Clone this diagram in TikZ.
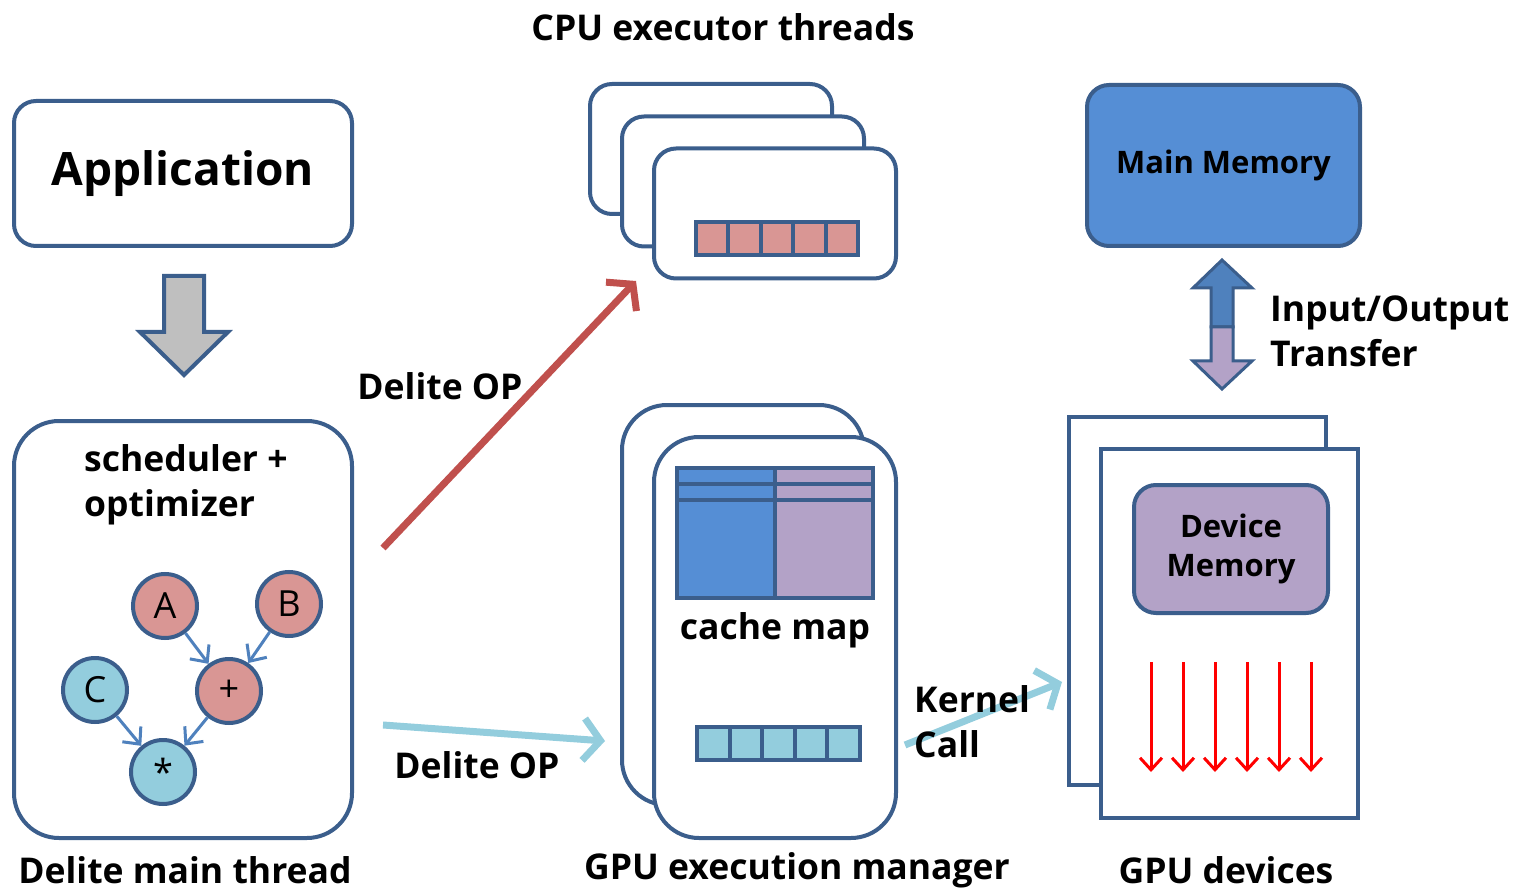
\documentclass[tikz,border=0pt]{standalone}
\usepackage{fontspec}
\setmainfont{Open Sans}
\usetikzlibrary{shapes,arrows,arrows.meta,positioning,fit,backgrounds}
\definecolor{frame}{RGB}{59,94,140}
\definecolor{pinkfill}{RGB}{217,150,148}
\definecolor{cyanfill}{RGB}{147,205,221}
\definecolor{bluefill}{RGB}{85,142,213}
\definecolor{purplefill}{RGB}{179,162,199}
\definecolor{edgeblue}{RGB}{79,129,189}
\definecolor{opred}{RGB}{192,80,77}
\definecolor{flowgray}{RGB}{191,191,191}
\newcommand{\appsize}{\fontsize{46}{52}\selectfont\bfseries}
\newcommand{\labsize}{\fontsize{35.5}{45}\selectfont\bfseries}
\newcommand{\memsize}{\fontsize{31}{39}\selectfont\bfseries}
\tikzstyle{panel} = [rectangle, rounded corners=22pt, draw=frame, line width=4pt, fill=white]
\tikzstyle{device} = [rectangle, draw=frame, line width=4pt, fill=white, minimum width=257pt]
\tikzstyle{vertex} = [circle, draw=frame, line width=4pt, minimum size=64pt, inner sep=0pt, font=\fontsize{36}{36}\selectfont]
\tikzstyle{cell} = [rectangle, draw=frame, line width=4pt, minimum height=33pt, inner sep=0pt]
\tikzstyle{label} = [inner sep=0pt, font=\labsize]
\tikzstyle{gedge} = [draw=edgeblue, line width=3pt, -{Straight Barb[length=13pt,width=24pt]}]
\tikzstyle{opedge} = [draw, line width=7pt, -{Straight Barb[length=17pt,width=42pt]}]
\tikzstyle{thread} = [draw=red, line width=3pt, -{Straight Barb[length=12pt,width=22pt]}]

\begin{document}
\begin{tikzpicture}[x=1pt,y=-1pt]
\useasboundingbox (0,0) rectangle (1532,893);

% main thread ==============================

\node[panel, minimum width=338pt, minimum height=145pt, font=\appsize] (app) at (183,173.5) {Application};
\filldraw[fill=flowgray, draw=frame, line width=4pt, line join=miter]
  (164,276) -- (204,276) -- (204,332) -- (228,332) -- (184,375) -- (140,332) -- (164,332) -- cycle;
\node[panel, rounded corners=45pt, minimum width=338pt, minimum height=417pt] (main) at (183,629.5) {};
\node[label, anchor=north west, align=left] (sched) at (84,444) {scheduler +\\optimizer};
\node[label] (mainlab) at (185,870) {Delite main thread};

% graph
\node[vertex, fill=pinkfill] (a) at (165,606) {A};
\node[vertex, fill=pinkfill] (b) at (289,604) {B};
\node[vertex, fill=cyanfill] (c) at (95,690) {C};
\node[vertex, fill=pinkfill] (plus) at (229,691) {+};
\node[vertex, fill=cyanfill] (times) at (163,772) {*};

\path[gedge] (a) -- (plus);
\path[gedge] (b) -- (plus);
\path[gedge] (c) -- (times);
\path[gedge] (plus) -- (times);

% cpu threads ==============================

\node[label] (cpulab) at (723,27) {CPU executor threads};
\node[panel, minimum width=242pt, minimum height=130pt] (cpu1) at (711,149) {};
\node[panel, minimum width=242pt, minimum height=130pt] (cpu2) at (743,181.5) {};
\node[panel, minimum width=242pt, minimum height=130pt] (cpu3) at (775,213.5) {};
\foreach \i in {0,...,4}
  \node[cell, fill=pinkfill, minimum width=32.4pt] (pc\i) at (712.2+32.4*\i,238.5) {};

% gpu execution manager ====================

\node[panel, rounded corners=45pt, minimum width=242pt, minimum height=400pt] (mgr1) at (743,605) {};
\node[panel, rounded corners=45pt, minimum width=242pt, minimum height=401pt] (mgr2) at (775,637.5) {};
\fill[bluefill] (677,468) rectangle (775,598);
\fill[purplefill] (775,468) rectangle (873,598);
\draw[frame, line width=4pt] (677,484) -- (873,484) (677,500) -- (873,500) (775,468) -- (775,598);
\node[rectangle, draw=frame, line width=4pt, minimum width=196pt, minimum height=130pt] (cache) at (775,533) {};
\node[label, below=12pt of cache] (cachelab) {cache map};
\foreach \i in {0,...,4}
  \node[cell, fill=cyanfill, minimum width=32.6pt] (gc\i) at (713.3+32.6*\i,743.5) {};
\node[label] (mgrlab) at (797,870) {GPU execution manager};

% gpu devices ==============================

\node[panel, minimum width=273pt, minimum height=161pt, fill=bluefill, font=\memsize] (mem) at (1223.5,165.5) {Main Memory};
\filldraw[fill=edgeblue, draw=frame, line width=3pt, line join=miter]
  (1222,260) -- (1252,288) -- (1233,288) -- (1233,327) -- (1211,327) -- (1211,288) -- (1193,288) -- cycle;
\filldraw[fill=purplefill, draw=frame, line width=3pt, line join=miter]
  (1211,327) -- (1233,327) -- (1233,361) -- (1252,361) -- (1222,389) -- (1193,361) -- (1211,361) -- cycle;
\node[label, anchor=west, align=left] (iolab) at (1270,331) {Input/Output\\Transfer};

\node[device, minimum height=368pt] (dev1) at (1197.5,601) {};
\node[device, minimum height=369pt] (dev2) at (1229.5,633.5) {};
\node[panel, minimum width=194pt, minimum height=128pt, fill=purplefill, font=\memsize, align=center] (devmem) at (1231,549) {Device\\Memory};
\foreach \i in {0,...,5}
  \draw[thread] (1151+32*\i,662) -- (1151+32*\i,772);
\node[label] (devlab) at (1226,870) {GPU devices};

% operations ===============================

\coordinate (cpustart) at (383,548);
\coordinate (cpuend) at (636,281);
\coordinate (gpustart) at (383,725);
\coordinate (gpuend) at (605,741);
\coordinate (kstart) at (905,745);
\coordinate (kend) at (1062,682);

\path[opedge, draw=opred] (cpustart) -- (cpuend);
\path[opedge, draw=cyanfill] (gpustart) -- (gpuend);
\path[opedge, draw=cyanfill] (kstart) -- (kend);
\node[label] (op1) at (440,386) {Delite OP};
\node[label] (op2) at (477,765) {Delite OP};
\node[label, anchor=west, align=left] (klab) at (914,722) {Kernel\\Call};

\end{tikzpicture}
\end{document}
